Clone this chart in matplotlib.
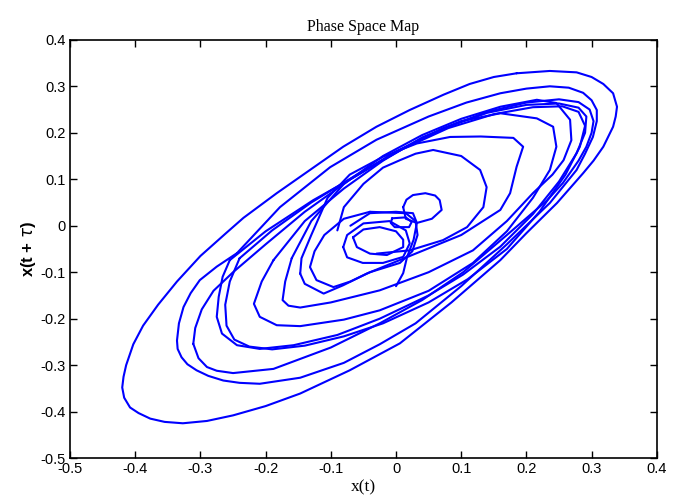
import numpy as np
import matplotlib
matplotlib.use("Agg")
import matplotlib.pyplot as plt

# trajectory, one loop at a time, (x(t), x(t+tau))
loop_a = [(0.185, 0.328), (0.236, 0.333), (0.277, 0.33), (0.3, 0.32), (0.318, 0.305),
          (0.333, 0.285), (0.339, 0.256), (0.337, 0.235), (0.333, 0.213), (0.318, 0.17),
          (0.303, 0.14), (0.287, 0.113), (0.247, 0.049), (0.2, -0.016), (0.16, -0.074),
          (0.085, -0.165), (0.006, -0.253), (-0.071, -0.311), (-0.147, -0.361), (-0.2, -0.388),
          (-0.25, -0.408), (-0.29, -0.42), (-0.327, -0.425), (-0.355, -0.422), (-0.377, -0.415),
          (-0.395, -0.403), (-0.408, -0.391), (-0.417, -0.37), (-0.42, -0.348), (-0.418, -0.325),
          (-0.414, -0.3), (-0.403, -0.255), (-0.388, -0.215), (-0.365, -0.17), (-0.336, -0.12),
          (-0.3, -0.065), (-0.26, -0.015), (-0.234, 0.017), (-0.183, 0.07), (-0.132, 0.12),
          (-0.081, 0.17), (-0.03, 0.213), (0.021, 0.249), (0.073, 0.282), (0.113, 0.305),
          (0.15, 0.32), (0.185, 0.328)]
loop_b = [(-0.244, -0.059), (-0.178, 0.04), (-0.101, 0.126), (-0.03, 0.185), (0.05, 0.235),
          (0.108, 0.265), (0.16, 0.285), (0.2, 0.295), (0.236, 0.3), (0.265, 0.297),
          (0.287, 0.286), (0.3, 0.27), (0.308, 0.249), (0.308, 0.225), (0.302, 0.191),
          (0.29, 0.155), (0.277, 0.12), (0.236, 0.049), (0.17, -0.04), (0.1, -0.13),
          (0.03, -0.21), (-0.025, -0.255), (-0.08, -0.295), (-0.147, -0.327), (-0.209, -0.34),
          (-0.24, -0.338), (-0.265, -0.333), (-0.288, -0.323), (-0.306, -0.311), (-0.32, -0.298),
          (-0.329, -0.283), (-0.335, -0.265), (-0.336, -0.247), (-0.333, -0.21), (-0.326, -0.175),
          (-0.315, -0.145), (-0.301, -0.117), (-0.275, -0.088), (-0.244, -0.059)]
loop_c = [(-0.311, -0.254), (-0.308, -0.22), (-0.298, -0.18), (-0.28, -0.14), (-0.25, -0.1),
          (-0.2, -0.04), (-0.14, 0.03), (-0.07, 0.1), (0.0, 0.16), (0.073, 0.21),
          (0.14, 0.245), (0.2, 0.265), (0.25, 0.272), (0.28, 0.266), (0.297, 0.25),
          (0.303, 0.225), (0.3, 0.2), (0.292, 0.17), (0.28, 0.14), (0.256, 0.092),
          (0.232, 0.055), (0.17, -0.02), (0.103, -0.1), (0.04, -0.16), (-0.025, -0.21),
          (-0.1, -0.262), (-0.188, -0.308), (-0.25, -0.317), (-0.275, -0.312), (-0.29, -0.304),
          (-0.303, -0.285), (-0.311, -0.254)]
loop_d = [(-0.255, -0.074), (-0.266, -0.11), (-0.272, -0.153), (-0.275, -0.196), (-0.267, -0.232),
          (-0.244, -0.257), (-0.209, -0.265), (-0.157, -0.257), (-0.09, -0.235), (-0.025, -0.2),
          (0.05, -0.15), (0.103, -0.105), (0.16, -0.045), (0.21, 0.025), (0.25, 0.095),
          (0.277, 0.156), (0.29, 0.2), (0.292, 0.235), (0.28, 0.254), (0.25, 0.263),
          (0.2, 0.26), (0.14, 0.243), (0.07, 0.208), (0.0, 0.158), (-0.06, 0.108),
          (-0.127, 0.055), (-0.2, -0.012), (-0.255, -0.074)]
loop_d2 = [(-0.24, -0.07), (-0.255, -0.12), (-0.262, -0.17), (-0.26, -0.215), (-0.248, -0.245),
           (-0.225, -0.26), (-0.19, -0.266), (-0.14, -0.258), (-0.08, -0.238), (-0.02, -0.21),
           (0.05, -0.165), (0.11, -0.115), (0.17, -0.05), (0.22, 0.03), (0.26, 0.11),
           (0.282, 0.17), (0.29, 0.215), (0.28, 0.245), (0.255, 0.257), (0.21, 0.255),
           (0.15, 0.24), (0.08, 0.21), (0.01, 0.165), (-0.06, 0.11), (-0.13, 0.05),
           (-0.19, -0.01), (-0.24, -0.07)]
loop_e = [(-0.188, -0.074), (-0.206, -0.12), (-0.218, -0.168), (-0.209, -0.196), (-0.183, -0.214),
          (-0.147, -0.216), (-0.08, -0.202), (-0.025, -0.182), (0.05, -0.14), (0.118, -0.08),
          (0.17, -0.012), (0.21, 0.06), (0.236, 0.12), (0.246, 0.17), (0.241, 0.213),
          (0.216, 0.231), (0.16, 0.242), (0.1, 0.225), (0.04, 0.19), (-0.02, 0.14),
          (-0.08, 0.08), (-0.14, 0.01), (-0.188, -0.074)]
loop_f = [(-0.16, -0.07), (-0.17, -0.12), (-0.174, -0.16), (-0.165, -0.172), (-0.147, -0.176),
          (-0.1, -0.165), (-0.025, -0.139), (0.05, -0.1), (0.118, -0.053), (0.17, 0.01),
          (0.21, 0.07), (0.24, 0.11), (0.257, 0.141), (0.269, 0.184), (0.267, 0.228),
          (0.246, 0.264), (0.216, 0.271), (0.16, 0.256), (0.1, 0.23), (0.04, 0.195),
          (-0.02, 0.15), (-0.08, 0.09), (-0.13, 0.01), (-0.16, -0.07)]
loop_g = [(-0.147, -0.103), (-0.14, -0.125), (-0.111, -0.146), (-0.081, -0.128), (-0.045, -0.103),
          (0.03, -0.06), (0.1, -0.02), (0.16, 0.034), (0.175, 0.07), (0.185, 0.127),
          (0.195, 0.17), (0.18, 0.189), (0.13, 0.192), (0.083, 0.191), (0.032, 0.177),
          (-0.019, 0.149), (-0.071, 0.11), (-0.105, 0.06), (-0.13, -0.02), (-0.145, -0.07),
          (-0.147, -0.103)]
loop_h = [(-0.04, 0.03), (-0.08, 0.015), (-0.11, -0.02), (-0.125, -0.055), (-0.132, -0.089),
          (-0.122, -0.117), (-0.096, -0.132), (-0.07, -0.12), (-0.04, -0.1), (0.006, -0.08),
          (0.025, -0.055), (0.033, -0.02), (0.03, 0.01), (0.015, 0.027), (-0.04, 0.03)]
loop_m = [(-0.09, -0.01), (-0.08, 0.04), (-0.05, 0.09), (-0.02, 0.125), (0.006, 0.141),
          (0.03, 0.155), (0.057, 0.163), (0.1, 0.15), (0.129, 0.12), (0.139, 0.083),
          (0.134, 0.04), (0.109, -0.003), (0.072, -0.031), (0.021, -0.053), (-0.03, -0.06)]
loop_s1 = [(-0.066, -0.025), (-0.05, -0.008), (-0.025, -0.003), (0.0, -0.012), (0.011, -0.03),
           (0.011, -0.046), (-0.014, -0.063), (-0.04, -0.06), (-0.06, -0.046), (-0.066, -0.025)]
loop_s2 = [(-0.081, -0.046), (-0.075, -0.068), (-0.051, -0.08), (-0.02, -0.08), (0.011, -0.067),
           (0.021, -0.038), (0.015, -0.01), (-0.01, 0.01), (-0.05, 0.005), (-0.075, -0.02),
           (-0.081, -0.046)]
loop_s3 = [(-0.07, 0.0), (-0.04, 0.027), (0.0, 0.03), (0.026, 0.027), (0.032, 0.006),
           (0.027, -0.03), (0.017, -0.067), (0.011, -0.102), (0.0, -0.13)]
loop_s4 = [(-0.006, 0.016), (0.015, 0.018), (0.024, 0.008), (0.02, -0.003), (-0.002, -0.003),
           (-0.008, 0.006), (-0.006, 0.016)]
loop_s5 = [(0.011, 0.04), (0.016, 0.056), (0.026, 0.066), (0.045, 0.07), (0.06, 0.065),
           (0.067, 0.055), (0.07, 0.034), (0.055, 0.015), (0.032, 0.006), (0.015, 0.015),
           (0.011, 0.04)]

loops = [loop_a, loop_b, loop_c, loop_d, loop_d2, loop_e, loop_f, loop_g, loop_h,
         loop_m, loop_s1, loop_s2, loop_s3, loop_s4, loop_s5]

fig = plt.figure(figsize=(6.87, 5.04), dpi=100)
ax = fig.add_axes([0.102, 0.091, 0.854, 0.83])

for lp in loops:
    pts = np.array(lp)
    ax.plot(pts[:, 0], pts[:, 1], color='#0000ff', lw=1.5,
            solid_joinstyle='round', solid_capstyle='round')

ax.set_xlim(-0.5, 0.4)
ax.set_ylim(-0.5, 0.4)
ax.set_xticks(np.arange(-0.5, 0.41, 0.1))
ax.set_yticks(np.arange(-0.5, 0.41, 0.1))
ticklab = ['-0.5', '-0.4', '-0.3', '-0.2', '-0.1', '0', '0.1', '0.2', '0.3', '0.4']
ax.set_xticklabels(ticklab, family='Liberation Sans', fontsize=10.5)
ax.set_yticklabels(ticklab, family='Liberation Sans', fontsize=10.5)
ax.tick_params(direction='in', top=True, right=True, length=5, width=1, pad=3)
for s in ax.spines.values():
    s.set_linewidth(1.2)

ax.set_title('Phase Space Map', family='Liberation Serif', fontsize=11.5, pad=6)
ax.set_xlabel('x(t)', family='Liberation Serif', fontsize=12.5, labelpad=2)
ax.set_ylabel(r'x(t + $\tau$)', family='Liberation Sans', fontsize=12, fontweight='bold', labelpad=2)

fig.savefig('out.png', dpi=100)
